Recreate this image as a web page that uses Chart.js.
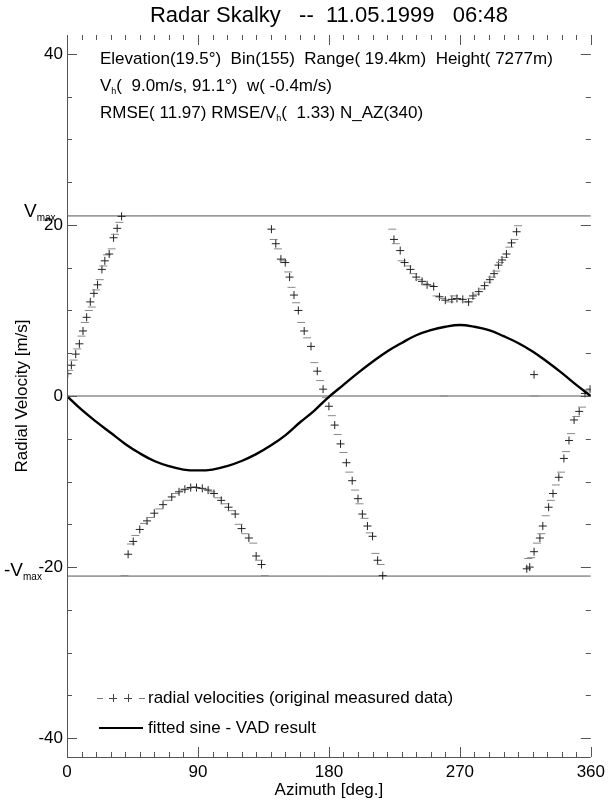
<!DOCTYPE html>
<html>
<head>
<meta charset="utf-8">
<script src="https://cdn.jsdelivr.net/npm/chart.js@4/dist/chart.umd.min.js"></script>
<style>
html, body { margin: 0; padding: 0; background: #fff; }
canvas { display: block; }
</style>
</head>
<body>
<canvas id="myChart" width="610" height="805"></canvas>
<script>
// measured radial velocities (aliased), azimuth in deg
const measAz = [
    0.5, 1.5, 3, 4.5, 6, 7, 8.5, 10, 11, 12.3, 13.5, 15, 16, 17, 18.5, 19.8, 21, 22.5, 24, 25, 26, 27.5, 29, 30.7, 32, 33, 34.5, 36, 37.5,
    39.5, 42, 44, 45.5, 47, 50, 53, 55, 57.7, 60, 63.4, 66, 69, 72, 74.7, 77, 79, 81, 83, 85, 87, 89, 91, 93, 95, 97, 99, 101, 104, 106, 109, 111, 113, 115.6, 118, 120, 122.5, 125, 128, 130, 132, 133.7, 136,
    140.5, 142, 143.5, 145, 147, 148.5, 150, 152, 153, 154.3, 156, 157.5, 159, 161, 163, 165, 167.7, 170, 172, 174, 176, 178, 180, 182, 184, 186, 188, 190, 192, 194, 196, 198, 200, 201, 203, 204.5, 206.5, 208, 210, 212, 213.5, 215.5, 217,
    223.5, 224.7, 226, 229, 230, 232, 234, 236, 238, 240, 242, 244, 246, 247.5, 250, 252, 254, 256, 258, 260, 263, 264.5, 266, 268, 270, 272, 274, 276, 278, 279, 281, 283, 285, 287, 289, 290.6, 292, 293.5, 295, 296.5, 297.5, 299, 300.7, 302, 304, 305.5, 307.5, 309, 310,
    316, 317, 318, 319, 321, 323, 325, 326, 327, 329, 331, 332.5, 334, 336, 338, 339.5, 341.5, 343, 345, 346.4, 348.5, 350, 352, 354, 356, 358, 359.5,
    259, 321, 321.5
];
const measVel = [
    2.6, 3.0, 3.6, 4.2, 4.9, 5.5, 6.1, 7.0, 7.6, 8.6, 9.2, 10.0, 11.0, 10.4, 12.0, 12.4, 13.0, 13.6, 14.8, 15.2, 15.8, 16.5, 16.6, 17.2, 18.5, 18.9, 19.6, 20.3, 21.0,
    -21.0, -18.5, -17.3, -17.0, -16.3, -15.6, -14.9, -14.6, -14.2, -13.7, -13.2, -12.7, -12.2, -11.8, -11.4, -11.2, -11.0, -10.9, -10.8, -10.7, -10.6, -10.7, -10.8, -10.8, -10.9, -11.0, -11.2, -11.4, -11.9, -12.2, -12.6, -13.0, -13.4, -13.8, -15.0, -15.5, -16.1, -16.6, -17.2, -18.7, -19.2, -19.7, -21.0,
    19.5, 18.3, 17.8, 17.2, 16.0, 15.8, 15.6, 14.5, 13.9, 12.7, 11.8, 10.9, 10.0, 8.6, 7.6, 6.8, 5.8, 3.9, 2.9, 1.8, 0.8, -0.2, -1.2, -2.3, -3.4, -4.5, -5.6, -6.6, -7.8, -8.9, -9.9, -11.0, -12.0, -12.6, -13.8, -14.3, -15.2, -16.0, -16.4, -18.4, -19.2, -19.7, -21.0,
    19.5, 18.3, 17.8, 17.0, 15.8, 15.6, 15.2, 14.8, 14.3, 13.9, 13.6, 13.4, 13.1, 13.0, 12.9, 12.8, 11.7, 11.6, 11.4, 11.2, 11.0, 11.3, 11.7, 11.4, 11.3, 11.3, 11.0, 11.0, 11.4, 11.7, 11.9, 12.2, 12.5, 12.9, 13.3, 13.6, 13.9, 14.3, 14.6, 15.3, 15.6, 15.9, 16.2, 16.6, 17.4, 17.9, 18.3, 19.2, 19.9,
    -20.2, -19.0, -20.0, -18.9, -18.2, -17.2, -16.6, -16.1, -15.2, -14.0, -13.0, -12.2, -11.4, -10.4, -9.5, -8.9, -7.3, -6.5, -5.2, -4.4, -2.8, -2.4, -1.8, -1.3, 0.3, 0.6, 0.8,
    0.0, 2.5, 0.0
];

// fitted sine (VAD result)
const fitAz = [0, 10, 20, 30, 40, 50, 60, 70, 80, 90, 100, 110, 120, 130, 140, 150, 160, 170, 180,
    190, 200, 210, 220, 230, 240, 250, 260, 270, 280, 290, 300, 310, 320, 330, 340, 350, 360];
const fitVel = [0.0, -1.6, -3.0, -4.3, -5.6, -6.7, -7.6, -8.2, -8.6, -8.7, -8.6, -8.2, -7.6, -6.8, -5.8, -4.6, -3.1, -1.7, -0.1,
    1.3, 2.7, 4.0, 5.2, 6.2, 7.1, 7.7, 8.1, 8.3, 8.1, 7.7, 7.0, 6.2, 5.2, 4.0, 2.7, 1.3, 0.0];

const vMax = 21.05;
const refLevels = [vMax, 0, -vMax];

const xTicks = [0, 90, 180, 270, 360];
const yTicks = [-40, -20, 0, 20, 40];
const xMinor = 10;
const yMinor = 5;

const titleText = 'Radar Skalky   --  11.05.1999   06:48';
const infoLines = [
    [['Elevation(19.5°)  Bin(155)  Range( 19.4km)  Height( 7277m)', false]],
    [['V', false], ['h', true], ['(  9.0m/s, 91.1°)  w( -0.4m/s)', false]],
    [['RMSE( 11.97) RMSE/V', false], ['h', true], ['(  1.33) N_AZ(340)', false]]
];
const legendMeas = 'radial velocities (original measured data)';
const legendFit = 'fitted sine - VAD result';

const FONT = '"Liberation Sans", Arial, sans-serif';

function drawRich(ctx, parts, x, y, size) {
    for (const [t, sub] of parts) {
        ctx.font = (sub ? Math.round(size * 0.55) : size) + 'px ' + FONT;
        ctx.fillText(t, x, y + (sub ? size * 0.2 : 0));
        x += ctx.measureText(t).width;
    }
}

function seg(ctx, x1, y1, x2, y2) {
    ctx.beginPath();
    ctx.moveTo(x1, y1);
    ctx.lineTo(x2, y2);
    ctx.stroke();
}

const decor = {
    id: 'decor',
    afterDraw(chart) {
        const ctx = chart.ctx;
        const a = chart.chartArea;
        const xs = chart.scales.x;
        const ys = chart.scales.y;
        ctx.save();

        // axes: left and bottom lines only
        ctx.strokeStyle = '#555';
        ctx.lineWidth = 1;
        seg(ctx, a.left + 0.5, a.top, a.left + 0.5, a.bottom + 0.5);
        seg(ctx, a.left, a.bottom + 0.5, a.right, a.bottom + 0.5);

        // inward ticks, mirrored on top and right
        for (let v = -40; v <= 40; v += yMinor) {
            const py = Math.round(ys.getPixelForValue(v)) + 0.5;
            const len = yTicks.includes(v) ? 10 : 5;
            seg(ctx, a.left, py, a.left + len, py);
            seg(ctx, a.right - len, py, a.right, py);
        }
        for (let v = 0; v <= 360; v += xMinor) {
            const px = Math.round(xs.getPixelForValue(v)) + 0.5;
            const len = xTicks.includes(v) ? 10 : 5;
            seg(ctx, px, a.bottom, px, a.bottom - len);
            seg(ctx, px, a.top, px, a.top + len);
        }

        ctx.fillStyle = '#000';
        ctx.textBaseline = 'alphabetic';

        // title
        ctx.font = '22px ' + FONT;
        ctx.textAlign = 'center';
        ctx.fillText(titleText, (a.left + a.right) / 2, a.top - 13);

        // info text
        ctx.textAlign = 'left';
        infoLines.forEach((parts, i) => {
            drawRich(ctx, parts, a.left + 33, a.top + 29 + i * 27, 17);
        });

        // Vmax labels
        const pTop = ys.getPixelForValue(vMax);
        const pBot = ys.getPixelForValue(-vMax);
        drawRich(ctx, [['V', false], ['max', true]], 24, pTop + 1, 19);
        drawRich(ctx, [['-V', false], ['max', true]], 4, pBot, 19);

        // legend
        const ly1 = a.bottom - 59;
        const ly2 = a.bottom - 29;
        ctx.strokeStyle = '#777';
        ctx.lineWidth = 1;
        const lx = a.left + 30;
        seg(ctx, lx, ly1 + 0.5, lx + 6, ly1 + 0.5);
        seg(ctx, lx + 42, ly1 + 0.5, lx + 48, ly1 + 0.5);
        ctx.strokeStyle = '#444';
        [lx + 16, lx + 31].forEach(cx => {
            seg(ctx, cx - 4, ly1 + 0.5, cx + 4, ly1 + 0.5);
            seg(ctx, cx + 0.5, ly1 - 4, cx + 0.5, ly1 + 4);
        });
        ctx.strokeStyle = '#000';
        ctx.lineWidth = 2.2;
        seg(ctx, lx + 2, ly2, lx + 46, ly2);
        ctx.font = '17px ' + FONT;
        ctx.textBaseline = 'middle';
        ctx.fillText(legendMeas, a.left + 81, ly1);
        ctx.fillText(legendFit, a.left + 81, ly2);

        ctx.restore();
    }
};

const measPoints = measAz.map((az, i) => ({ x: az, y: measVel[i] }));
const fitPoints = fitAz.map((az, i) => ({ x: az, y: fitVel[i] }));

const refSets = refLevels.map(v => ({
    type: 'line',
    data: [{ x: 0, y: v }, { x: 360, y: v }],
    borderColor: '#555',
    borderWidth: 1,
    pointRadius: 0,
    order: 3
}));

const ctx = document.getElementById('myChart');
new Chart(ctx, {
    type: 'scatter',
    data: {
        datasets: [
            {
                label: legendMeas,
                data: measPoints,
                showLine: false,
                pointStyle: c => (c.dataIndex % 2 === 0 ? 'cross' : 'line'),
                pointRadius: 4,
                borderColor: c => (c.dataIndex % 2 === 0 ? '#222' : '#888'),
                borderWidth: 1,
                order: 2
            },
            {
                type: 'line',
                label: legendFit,
                data: fitPoints,
                borderColor: '#000',
                borderWidth: 2.4,
                pointRadius: 0,
                tension: 0.4,
                order: 1
            },
            ...refSets
        ]
    },
    options: {
        responsive: false,
        animation: false,
        layout: { padding: { left: 0, right: 15, top: 35, bottom: 0 } },
        plugins: {
            legend: { display: false },
            tooltip: { enabled: false },
            title: { display: false }
        },
        scales: {
            x: {
                type: 'linear',
                min: 0,
                max: 360,
                afterBuildTicks: s => { s.ticks = xTicks.map(v => ({ value: v })); },
                afterFit: s => { s.height = 48; },
                grid: { display: false, drawTicks: false },
                border: { display: false },
                ticks: { color: '#000', padding: 5, maxRotation: 0, font: { family: FONT, size: 17 } },
                title: { display: true, text: 'Azimuth [deg.]', color: '#000', padding: { top: 0, bottom: 4 }, font: { family: FONT, size: 17 } }
            },
            y: {
                type: 'linear',
                min: -42.2,
                max: 42.2,
                afterBuildTicks: s => { s.ticks = yTicks.map(v => ({ value: v })); },
                afterFit: s => { s.width = 67; },
                grid: { display: false, drawTicks: false },
                border: { display: false },
                ticks: { color: '#000', padding: 4, font: { family: FONT, size: 17 } },
                title: { display: true, text: 'Radial Velocity [m/s]', color: '#000', padding: { top: 12, bottom: 0 }, font: { family: FONT, size: 17 } }
            }
        }
    },
    plugins: [decor]
});
</script>
</body>
</html>
